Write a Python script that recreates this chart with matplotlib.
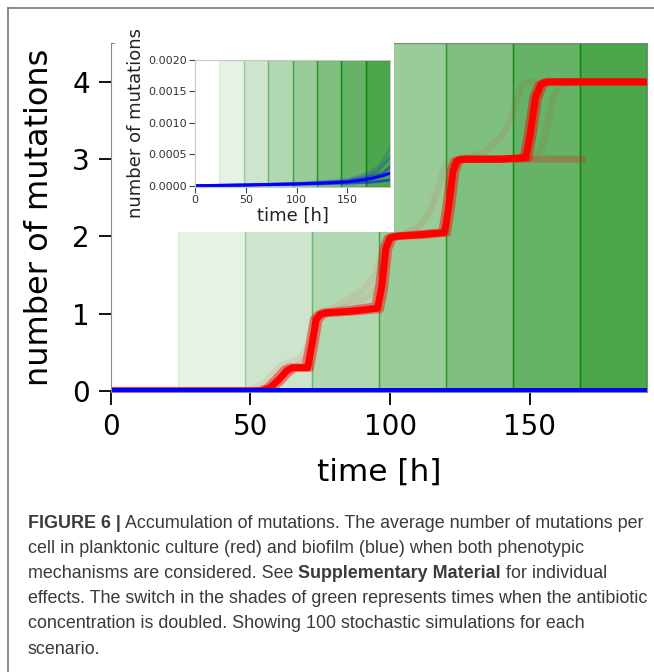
import matplotlib
matplotlib.use("Agg")
import matplotlib.pyplot as plt
from matplotlib.lines import Line2D
from matplotlib.patches import Rectangle
from matplotlib.text import Annotation
from matplotlib.ticker import FormatStrFormatter

# --- data ---
# antibiotic doubling times (start of each shade) [h]
shade_edges = [24, 48, 72, 96, 120, 144, 168, 192]
shade_alpha = [0.1, 0.2, 0.3, 0.4, 0.5, 0.6, 0.7]

# planktonic culture (red): bulk of the runs
red_core_t = [0, 54, 57, 60, 63, 65, 70.5, 72, 73.5, 75, 77, 86, 95.5, 97, 98.5, 100, 102, 110,
              119.5, 121, 122.5, 124, 126, 140, 148.5, 150, 152, 154, 156, 192]
red_core_y = [0, 0, 0.04, 0.14, 0.26, 0.30, 0.30, 0.60, 0.92, 0.99, 1.01, 1.03, 1.07, 1.35, 1.85, 1.98,
              2.0, 2.02, 2.05, 2.4, 2.85, 2.98, 3.0, 3.0, 3.02, 3.3, 3.8, 3.97, 4.0, 4.0]
# edges of the bundle
red_early_t = [0, 53, 56, 59, 62, 64, 69.5, 71, 72.5, 74, 76, 85, 94.5, 96, 97.5, 99, 101, 109, 118.5, 120,
               121.5, 123, 125, 139, 147.5, 149, 151, 153, 155, 192]
red_early_y = [0, 0, 0.05, 0.16, 0.28, 0.31, 0.31, 0.62, 0.93, 0.99, 1.02, 1.05, 1.1, 1.4, 1.86, 1.98,
               2.0, 2.03, 2.06, 2.42, 2.86, 2.98, 3.0, 3.0, 3.02, 3.3, 3.8, 3.97, 4.0, 4.0]
red_late_t = [0, 55, 58, 61, 64, 66, 71.5, 73, 74.5, 76, 78, 87, 96.5, 98, 99.5, 101, 103, 111, 120.5,
              122, 123.5, 125, 127, 141, 149.5, 151, 153, 155, 157, 192]
red_late_y = [0, 0, 0.03, 0.12, 0.24, 0.29, 0.29, 0.58, 0.91, 0.98, 1.0, 1.02, 1.05, 1.32, 1.84, 1.97,
              2.0, 2.01, 2.04, 2.38, 2.84, 2.97, 3.0, 3.0, 3.01, 3.28, 3.78, 3.96, 4.0, 4.0]
# faint single runs
red_f1_t = [66, 70, 72, 74, 76, 84, 90, 95, 97, 99, 101, 110]
red_f1_y = [0.3, 0.42, 0.6, 0.95, 1.02, 1.15, 1.3, 1.5, 1.8, 1.97, 2.0, 2.03]
red_f2_t = [74, 76, 86, 92, 96, 98, 100, 104]
red_f2_y = [0.97, 1.0, 1.1, 1.22, 1.35, 1.8, 2.0, 2.01]
red_f3_t = [100, 104, 110, 114, 117, 119, 121, 124, 130]
red_f3_y = [2.0, 2.02, 2.12, 2.3, 2.6, 2.85, 2.97, 3.0, 3.0]
red_f4_t = [124, 128, 134, 140, 143, 145, 147, 149, 152]
red_f4_y = [3.0, 3.02, 3.1, 3.3, 3.5, 3.75, 3.95, 4.0, 4.0]
red_f5_t = [140, 150, 154, 156, 158, 160, 162, 170]
red_f5_y = [3.0, 3.02, 3.1, 3.4, 3.75, 3.95, 4.0, 4.0]
red_f6_t = [50, 55, 60, 63, 68, 71, 73, 75, 80]
red_f6_y = [0, 0.1, 0.3, 0.36, 0.42, 0.6, 0.95, 1.0, 1.02]
# one run that stays at 3 mutations until it ends
red_stuck_t = [122, 125, 150, 170]
red_stuck_y = [2.9, 3.0, 3.0, 3.0]

# biofilm (blue)
blue_core_t = [0, 25, 50, 75, 100, 125, 150, 165, 175, 185, 192]
blue_core_y = [0, 0.000005, 0.00001, 0.00002, 0.00003, 0.00004, 0.00006, 0.00009, 0.00012, 0.00016, 0.0002]
blue_hi1_t = [0, 100, 150, 170, 180, 186, 192]
blue_hi1_y = [0, 0.00004, 0.0001, 0.0002, 0.0003, 0.00042, 0.0006]
blue_hi2_t = [0, 100, 150, 170, 180, 192]
blue_hi2_y = [0, 0.00003, 0.00008, 0.00016, 0.00024, 0.00045]
blue_mid_t = [0, 100, 150, 170, 185, 192]
blue_mid_y = [0, 0.00003, 0.00007, 0.00013, 0.0002, 0.0003]
blue_low_t = [0, 100, 150, 175, 192]
blue_low_y = [0, 0.00002, 0.00004, 0.00006, 0.00009]

x_ticks = [0, 50, 100, 150]
y_ticks = [0, 1, 2, 3, 4]
inset_y_ticks = [0, 0.0005, 0.0010, 0.0015, 0.0020]

caption_lines = [
    [("FIGURE 6 |", "bold"), (" Accumulation of mutations. The average number of mutations per", "normal")],
    [("cell in planktonic culture (red) and biofilm (blue) when both phenotypic", "normal")],
    [("mechanisms are considered. See ", "normal"), ("Supplementary Material", "bold"),
     (" for individual", "normal")],
    [("effects. The switch in the shades of green represents times when the antibiotic", "normal")],
    [("concentration is doubled. Showing 100 stochastic simulations for each", "normal")],
    [("scenario.", "normal")],
]

W, H = 654, 672
fig = plt.figure(figsize=(W / 100, H / 100), dpi=100)


def shade(ax):
    for k in range(len(shade_alpha)):
        ax.axvspan(shade_edges[k], shade_edges[k + 1], color='green', alpha=shade_alpha[k], lw=1)


# --- main panel ---
ax = fig.add_axes([110.7 / W, 1 - 392 / H, (647.3 - 110.7) / W, (392 - 43.3) / H])
shade(ax)
for t, y, a in [(red_f1_t, red_f1_y, 0.08), (red_f2_t, red_f2_y, 0.08), (red_f3_t, red_f3_y, 0.08),
                (red_f4_t, red_f4_y, 0.07), (red_f5_t, red_f5_y, 0.07), (red_f6_t, red_f6_y, 0.08),
                (red_stuck_t, red_stuck_y, 0.25),
                (red_early_t, red_early_y, 0.45), (red_late_t, red_late_y, 0.45)]:
    ax.plot(t, y, color='red', lw=5, alpha=a, solid_capstyle='butt')
ax.plot(red_core_t, red_core_y, color='red', lw=5, solid_capstyle='butt')
for t, y in [(blue_hi1_t, blue_hi1_y), (blue_hi2_t, blue_hi2_y), (blue_mid_t, blue_mid_y),
             (blue_low_t, blue_low_y), (blue_core_t, blue_core_y)]:
    ax.plot(t, y, color='blue', lw=3.6)
ax.set_xlim(0, 192)
ax.set_ylim(-0.015, 4.5)
ax.set_xticks(x_ticks)
ax.set_yticks(y_ticks)
ax.tick_params(labelsize=20, length=9, width=1.3, pad=6)
for s in ax.spines.values():
    s.set_color('#888888')
    s.set_linewidth(0.8)
ax.set_xlabel('time [h]', fontsize=22.5, labelpad=12)
ax.set_ylabel('number of mutations', fontsize=23, labelpad=12)

# white patch behind the inset
fig.add_artist(Rectangle((115 / W, 1 - 232.5 / H), (394 - 115) / W, (232.5 - 40) / H,
                         transform=fig.transFigure, facecolor='white', edgecolor='none', zorder=1))

# --- inset: biofilm only ---
axin = fig.add_axes([195 / W, 1 - 187 / H, 195 / W, 127 / H], zorder=2)
shade(axin)
axin.plot(blue_low_t, blue_low_y, color='blue', lw=2, alpha=0.5)
axin.plot(blue_mid_t, blue_mid_y, color='blue', lw=2, alpha=0.4)
axin.plot(blue_hi2_t, blue_hi2_y, color='blue', lw=2, alpha=0.25)
axin.plot(blue_hi1_t, blue_hi1_y, color='blue', lw=2, alpha=0.15)
axin.plot(blue_core_t, blue_core_y, color='blue', lw=2.2)
axin.set_xlim(0, 192)
axin.set_ylim(-0.00002, 0.002)
axin.set_xticks(x_ticks)
axin.set_yticks(inset_y_ticks)
axin.yaxis.set_major_formatter(FormatStrFormatter('%.4f'))
axin.tick_params(labelsize=8, length=4, width=0.8, color='#444444', labelcolor='#333333', pad=2)
for s in axin.spines.values():
    s.set_color('#c8c8c8')
    s.set_linewidth(0.8)
axin.set_xlabel('time [h]', fontsize=13, labelpad=1, color='#222222')
axin.set_ylabel('number of mutations', fontsize=13, labelpad=2, color='#222222')

# --- frame of the figure page ---
fig.add_artist(Line2D([7.5 / W, 7.5 / W], [0, 1 - 8 / H], color='#777777', lw=1.2))
fig.add_artist(Line2D([7.5 / W, 1], [1 - 8 / H, 1 - 8 / H], color='#777777', lw=1.2))

# --- caption ---
base = 527.5
for i, runs in enumerate(caption_lines):
    yb = 1 - (base + i * 25.2) / H
    prev = None
    for text, weight in runs:
        kw = dict(fontsize=12.9, family='Liberation Sans', fontweight=weight, color='#3a3a3a')
        if prev is None:
            prev = fig.text(28 / W, yb, text, va='baseline', ha='left', **kw)
        else:
            prev = fig.add_artist(Annotation(text, xy=(1, 0), xycoords=prev, va='bottom', ha='left', **kw))

fig.savefig('out.png', dpi=100)
